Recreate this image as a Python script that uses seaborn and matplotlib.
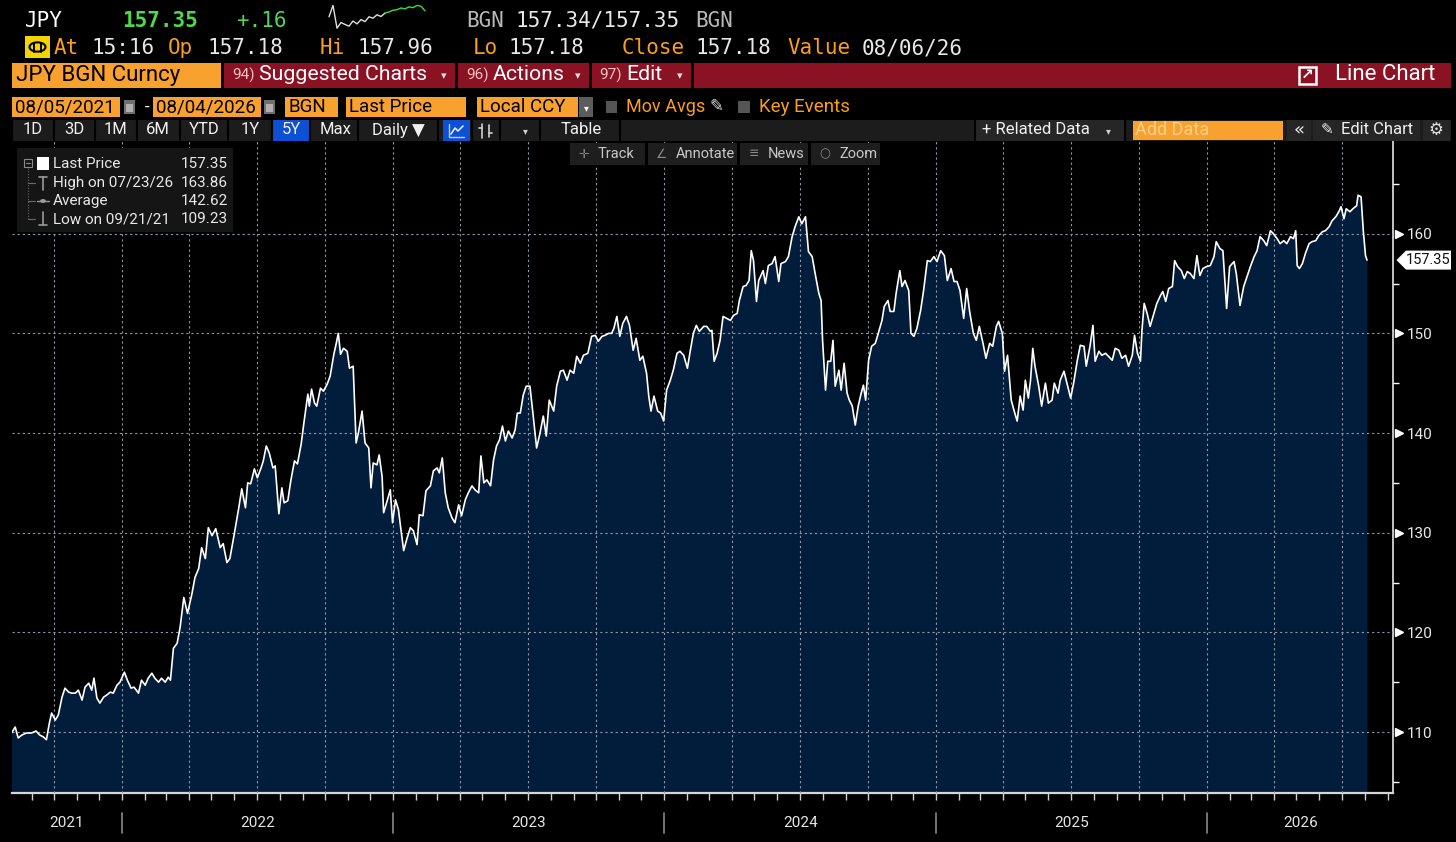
import matplotlib
matplotlib.use("Agg")
import matplotlib.pyplot as plt
import matplotlib.dates as mdates
import matplotlib.transforms as mtransforms
from matplotlib.patches import Rectangle, Polygon, Circle
from matplotlib.lines import Line2D
from matplotlib.ticker import NullFormatter
import numpy as np
import pandas as pd
import seaborn as sns

W, H = 1456, 842

# ---------------- data ----------------
start_date = "2021-08-05"
end_date = "2026-08-04"

# days after start_date
day_offsets = [
    0, 5, 9, 14, 20, 27, 33, 38, 43, 47,
    51, 54, 59, 63, 68, 72, 77, 81, 86, 90,
    95, 99, 104, 108, 111, 115, 119, 124, 128, 133,
    137, 142, 146, 152, 156, 161, 165, 171, 175, 180,
    184, 189, 193, 198, 202, 207, 211, 214, 218, 223,
    227, 232, 237, 243, 247, 252, 256, 261, 265, 270,
    275, 281, 285, 290, 294, 300, 306, 310, 315, 318,
    322, 327, 331, 336, 339, 343, 347, 352, 355, 360,
    364, 367, 372, 376, 381, 385, 390, 394, 399, 401,
    404, 408, 411, 416, 420, 425, 429, 434, 437, 440,
    443, 447, 452, 455,
    460, 464, 467, 472, 476, 481, 484, 487, 492, 495,
    499, 501, 505, 510, 513, 517, 521, 524, 528, 532,
    537, 541, 546, 549, 554, 558, 564, 568, 573, 576,
    580, 584, 588, 593, 597, 602, 606, 611, 615, 620,
    624, 629, 632, 636, 640, 645, 649, 653, 657, 661,
    665, 669, 674, 678, 681, 685, 689, 693, 698, 702,
    707, 711, 716, 720, 724, 730, 734, 739, 743, 748,
    752, 757, 761, 766, 770, 776, 781, 786, 790, 795,
    799, 804, 808, 811, 815, 819, 823, 828, 832, 837,
    841, 846, 850, 855, 858, 861, 865, 870, 874, 878,
    882, 887, 891, 896, 900, 905, 910, 914,
    918, 922, 926, 932, 936, 941, 943, 946, 950, 954,
    958, 963, 968, 972, 977, 980, 985, 989, 993, 996,
    999, 1003, 1006, 1012, 1015, 1019, 1024, 1028, 1033, 1036,
    1042, 1046, 1051, 1055, 1060, 1064, 1069, 1073, 1078, 1082,
    1087, 1090, 1092, 1096, 1099, 1103, 1106, 1109, 1114, 1117,
    1121, 1125, 1128, 1132, 1136, 1140, 1144, 1147, 1150, 1154,
    1158, 1163, 1167, 1172, 1175, 1180, 1183, 1188, 1191, 1196,
    1199, 1203, 1208, 1211, 1215, 1219, 1224, 1228, 1233, 1237,
    1242, 1246, 1251, 1256, 1260, 1265, 1269, 1273, 1277, 1282,
    1286, 1290, 1295, 1299, 1303, 1308, 1312, 1317, 1321, 1326,
    1329, 1334, 1337, 1341, 1346, 1350, 1354, 1358, 1362, 1365,
    1369,
    1372, 1375, 1378, 1383, 1387, 1392, 1396, 1401, 1404, 1409,
    1412, 1417, 1421, 1426, 1430, 1435, 1439, 1444, 1447, 1452,
    1456, 1459, 1464, 1468, 1473, 1477, 1482, 1486, 1491, 1495,
    1500, 1504, 1509, 1512, 1516, 1520, 1522, 1525, 1529, 1533,
    1538, 1542, 1547, 1550, 1554, 1558, 1563, 1566, 1570, 1575,
    1579, 1583, 1587, 1592, 1596, 1600, 1604, 1609, 1614, 1619,
    1622, 1627, 1631, 1636, 1640, 1646, 1649, 1654, 1659, 1664,
    1668, 1673, 1677, 1681, 1686, 1690, 1695, 1699, 1704, 1708,
    1713, 1717, 1722, 1726, 1729, 1731, 1734, 1738, 1742, 1747,
    1751, 1756, 1760, 1765, 1769, 1774, 1778, 1783, 1787, 1790,
    1794, 1797, 1802, 1806, 1811, 1813, 1817, 1820, 1823, 1825,
]

prices = [
    109.9, 110.5, 109.4, 109.7, 109.9, 109.9, 110.1, 109.7, 109.5, 109.23,
    110.9, 111.9, 111.2, 111.7, 113.5, 114.4, 114.0, 113.9, 113.9, 114.2,
    113.2, 114.5, 114.9, 114.2, 115.4, 113.4, 112.9, 113.5, 113.7, 114.0,
    113.9, 114.7, 115.0, 116.0, 115.2, 114.4, 114.5, 113.9, 115.2, 114.7,
    115.4, 115.9, 115.4, 115.0, 115.4, 115.0, 115.5, 115.2, 118.4, 118.9,
    120.5, 123.5, 121.9, 123.9, 125.5, 126.4, 128.5, 127.4, 130.5, 129.7,
    130.4, 128.5, 128.9, 127.0, 127.4, 129.9, 132.5, 134.4, 132.5, 135.0,
    134.9, 136.4, 135.5, 136.5, 137.2, 138.7, 138.0, 136.5, 136.7, 131.9,
    134.5, 133.0, 133.2, 135.2, 137.2, 136.9, 138.9, 141.2, 143.9, 142.7,
    144.4, 143.0, 142.7, 144.5, 144.2, 144.9, 145.7, 147.9, 148.9, 150.0,
    147.9, 148.5, 148.2, 146.5,
    146.7, 139.0, 140.0, 142.2, 139.0, 138.5, 134.5, 137.0, 136.8, 137.8,
    135.6, 132.0, 133.0, 134.3, 131.0, 133.3, 132.3, 130.5, 128.2, 129.3,
    130.5, 130.2, 128.8, 131.8, 131.7, 134.2, 134.7, 136.2, 136.5, 136.0,
    137.5, 134.0, 132.5, 131.5, 131.0, 132.8, 131.7, 133.3, 134.0, 134.7,
    134.3, 134.0, 137.7, 135.0, 135.3, 134.7, 137.3, 138.7, 139.3, 140.7,
    139.2, 140.2, 139.5, 140.3, 142.0, 142.0, 143.8, 144.7, 144.7, 142.0,
    138.5, 139.8, 141.7, 139.7, 143.3, 142.2, 144.7, 146.2, 146.3, 145.3,
    146.3, 146.0, 147.7, 147.0, 147.8, 148.0, 149.7, 149.8, 149.2, 149.7,
    149.8, 150.0, 150.0, 150.5, 151.7, 149.7, 151.0, 151.7, 150.8, 148.3,
    149.5, 147.3, 147.7, 146.0, 143.7, 142.2, 143.7, 142.2, 142.0, 141.2,
    144.3, 145.3, 146.3, 148.0, 148.2, 147.8, 146.5, 148.3,
    150.0, 150.8, 150.2, 150.7, 150.7, 150.2, 150.3, 147.2, 148.0, 149.3,
    151.7, 151.5, 151.3, 151.8, 152.0, 153.3, 154.7, 154.8, 155.3, 158.3,
    157.3, 153.2, 155.3, 156.3, 155.0, 156.8, 157.0, 157.7, 155.2, 157.0,
    157.2, 157.7, 159.7, 160.7, 161.7, 161.0, 161.7, 158.2, 157.7, 156.0,
    154.0, 153.3, 149.3, 144.3, 147.2, 147.2, 149.3, 144.7, 146.3, 144.3,
    147.0, 144.0, 143.3, 142.7, 140.8, 142.7, 144.0, 144.8, 143.3, 147.3,
    148.7, 149.0, 150.0, 151.3, 152.7, 153.3, 152.2, 152.2, 154.0, 156.3,
    154.7, 155.3, 154.3, 150.0, 149.7, 150.5, 152.3, 154.3, 157.3, 157.2,
    157.7, 157.2, 158.3, 157.8, 155.3, 156.5, 155.2, 155.2, 154.3, 151.5,
    154.5, 152.2, 150.0, 149.3, 150.7, 149.0, 147.5, 149.0, 148.7, 150.7,
    151.2, 150.0, 146.2, 147.8, 143.3, 142.2, 141.2, 143.7, 142.3, 145.3,
    143.5,
    145.3, 148.5, 146.7, 144.7, 142.7, 145.0, 143.0, 143.3, 145.0, 144.0,
    145.3, 146.2, 145.0, 143.5, 145.0, 147.3, 148.8, 148.7, 146.7, 148.7,
    150.8, 147.2, 148.2, 147.8, 148.0, 147.7, 147.3, 148.5, 148.3, 147.5,
    147.8, 146.7, 147.8, 149.8, 148.0, 147.2, 150.3, 153.0, 152.0, 150.7,
    152.0, 153.0, 153.8, 154.2, 153.2, 154.5, 154.7, 157.3, 156.7, 156.3,
    155.5, 156.2, 156.0, 155.5, 157.8, 155.8, 156.5, 156.7, 156.8, 157.7,
    159.2, 158.5, 158.3, 152.5, 156.7, 157.2, 156.0, 152.8, 154.7, 155.8,
    156.7, 157.7, 158.3, 159.7, 159.3, 158.8, 160.3, 160.0, 159.5, 159.0,
    159.3, 159.0, 159.7, 159.5, 160.3, 156.8, 156.5, 157.0, 158.0, 159.0,
    159.2, 159.3, 159.8, 160.2, 160.3, 160.7, 161.3, 161.7, 162.2, 162.7,
    161.5, 162.5, 162.2, 162.5, 162.8, 163.86, 163.7, 160.3, 157.8, 157.35,
]

# intraday sparkline in the header (relative levels)
spark_white = [0.55, 0.95, 0.15, 0.35, 0.28, 0.22, 0.40, 0.30, 0.45, 0.38, 0.55, 0.50, 0.62, 0.56, 0.68]
spark_green = [0.68, 0.72, 0.78, 0.80, 0.86, 0.83, 0.90, 0.87, 0.95, 0.92, 0.76]

year_labels = ["2021", "2022", "2023", "2024", "2025", "2026"]
y_ticks = [110, 120, 130, 140, 150, 160]
legend_labels = ["Last Price", "High on 07/23/26", "Average", "Low on 09/21/21"]
legend_values = ["157.35", "163.86", "142.62", "109.23"]
period_buttons = ["1D", "3D", "1M", "6M", "YTD", "1Y", "5Y", "Max"]

# ---------------- style ----------------
NAVY = "#021d3b"
ORANGE_BOX = "#f9a12e"
ORANGE_TXT = "#fb9e1d"
RED_BAR = "#8a1222"
GREEN = "#4fd94f"
GRID = "#8e98a5"
UI = ["Roboto", "DejaVu Sans"]
MONO = ["DejaVu Sans Mono", "DejaVu Sans"]
SYM = ["DejaVu Sans"]

sns.set_theme(style="dark", rc={"axes.facecolor": "black", "figure.facecolor": "black",
                                "savefig.facecolor": "black"})
plt.rcParams["font.family"] = UI

fig = plt.figure(figsize=(W / 100, H / 100), dpi=100)


def fx(x):
    return x / W


def fy(y):
    return 1 - y / H


def box(x0, y0, x1, y1, color, ec="none", lw=0):
    fig.add_artist(Rectangle((fx(x0), fy(y1)), (x1 - x0) / W, (y1 - y0) / H,
                             transform=fig.transFigure, facecolor=color,
                             edgecolor=ec, lw=lw))


def txt(x, y, s, color="white", size=12, ha="left", family=None, weight="normal"):
    fig.text(fx(x), fy(y), s, color=color, fontsize=size, ha=ha, va="center",
             family=family or UI, weight=weight)


def seg(xs, ys, color, lw=1.0, ls="-"):
    fig.add_artist(Line2D([fx(v) for v in xs], [fy(v) for v in ys],
                          transform=fig.transFigure, color=color, lw=lw, ls=ls))


def vline(x, y0, y1, color, lw=1.0, ls="-"):
    seg([x, x], [y0, y1], color, lw, ls)


def hline(x0, x1, y, color, lw=1.0, ls="-"):
    seg([x0, x1], [y, y], color, lw, ls)


# ---------------- main chart ----------------
ax = fig.add_axes([fx(11.5), fy(793), (1393 - 11.5) / W, (793 - 141) / H])
ax.set_facecolor("black")

dates = pd.Timestamp(start_date) + pd.to_timedelta(day_offsets, unit="D")
df = pd.DataFrame({"date": dates, "price": prices})
y_lo, y_hi = 103.88, 169.3

ax.fill_between(df["date"], df["price"], y_lo, color=NAVY, lw=0, zorder=1)
sns.lineplot(data=df, x="date", y="price", color="white", lw=1.2, ax=ax, zorder=3)

ax.set_xlim(pd.Timestamp(start_date), pd.Timestamp("2026-09-08"))
ax.set_ylim(y_lo, y_hi)
ax.set_xlabel("")
ax.set_ylabel("")

ax.xaxis.set_major_locator(mdates.MonthLocator(bymonth=[1, 4, 7, 10]))
ax.xaxis.set_minor_locator(mdates.MonthLocator())
ax.xaxis.set_major_formatter(NullFormatter())
ax.tick_params(axis="x", which="both", direction="out", length=5, width=1,
               color="#d0d0d0", bottom=True, labelbottom=False)

ax.yaxis.tick_right()
ax.set_yticks(y_ticks)
ax.set_yticks(np.arange(105, 170, 10), minor=True)
ax.yaxis.set_minor_formatter(NullFormatter())
ax.tick_params(axis="y", which="major", length=0, pad=10, labelsize=11,
               labelcolor="#e8e8e8", right=True, left=False)
ax.tick_params(axis="y", which="minor", length=4, width=1, color="white",
               right=True, left=False)

ax.set_axisbelow(False)
ax.grid(True, which="major", axis="both", color=GRID, linestyle=(0, (2, 2.6)), lw=0.8)
ax.grid(False, which="minor")

for side in ["top", "left"]:
    ax.spines[side].set_visible(False)
ax.spines["bottom"].set_color("#d6d6d6")
ax.spines["bottom"].set_linewidth(1.6)
ax.spines["right"].set_color("#e6e6e6")
ax.spines["right"].set_linewidth(1.2)

trans_ay = mtransforms.blended_transform_factory(ax.transAxes, ax.transData)
trans_xa = mtransforms.blended_transform_factory(ax.transData, ax.transAxes)
ax_w = 1393 - 11.5

# triangle markers at the major y ticks
ax.plot([(1398.5 - 11.5) / ax_w] * len(y_ticks), y_ticks, marker=">", ls="none", ms=5.5,
        color="white", transform=trans_ay, clip_on=False)

# last price tag
last = prices[-1]
half = 9.5 / 9.96
tip, rl, rr = (1396.5 - 11.5) / ax_w, (1406 - 11.5) / ax_w, (1451 - 11.5) / ax_w
ax.add_patch(Polygon([(tip, last), (rl, last + half), (rr, last + half),
                      (rr, last - half), (rl, last - half)], closed=True,
                     transform=trans_ay, clip_on=False, facecolor="white",
                     edgecolor="none", zorder=5))
ax.text((rl + rr) / 2, last, f"{last:.2f}", transform=trans_ay, ha="center", va="center",
        fontsize=10.5, color="#111111", zorder=6)

# year labels and separators
x0_lim, x1_lim = pd.Timestamp(start_date), pd.Timestamp("2026-09-08")
for lab in year_labels:
    ys = max(pd.Timestamp(f"{lab}-01-01"), x0_lim)
    ye = min(pd.Timestamp(f"{int(lab) + 1}-01-01"), x1_lim)
    mid = ys + (ye - ys) / 2
    ax.text(mid, -0.046, lab, transform=trans_xa, ha="center", va="center",
            fontsize=11, color="#e6e6e6")
    if ys > x0_lim:
        ax.add_line(Line2D([ys, ys], [-0.031, -0.061], transform=trans_xa,
                           color="#8a8a8a", lw=1.2, clip_on=False))

# ---------------- legend box ----------------
box(17, 148, 233, 232, "#151515")
rows_y = [164, 183, 201, 219]
for lab, val, yy in zip(legend_labels, legend_values, rows_y):
    txt(53, yy, lab, color="#e8e8e8", size=11)
    txt(228, yy, val, color="#e8e8e8", size=11, ha="right")
box(24, 159, 32, 167, "#151515", ec="#8a8a8a", lw=0.8)
hline(26, 30, 163, "#8a8a8a", lw=0.8)
vline(28, 168, 219, "#6a6a6a", lw=0.8, ls=(0, (1, 1.5)))
for yy in rows_y[1:]:
    hline(28, 35, yy, "#6a6a6a", lw=0.8)
box(37, 157, 49, 170, "white")
vline(43, 177, 190, "#9a9a9a", lw=1.2)
hline(39, 47, 177, "#9a9a9a", lw=1.2)
hline(37, 49, 201, "#9a9a9a", lw=1.0)
fig.add_artist(Circle((fx(43), fy(201)), 2.2 / W, transform=fig.transFigure,
                      color="#9a9a9a"))
vline(43, 212, 225, "#9a9a9a", lw=1.2)
hline(39, 47, 225, "#9a9a9a", lw=1.2)

# ---------------- header row 1 ----------------
txt(25, 21, "JPY", size=15, family=MONO)
txt(122, 21, "157.35", color=GREEN, size=15, family=MONO, weight="bold")
txt(236, 21, "+.16", color=GREEN, size=15, family=MONO)
txt(466, 21, "BGN", color="#b8b8b8", size=15, family=MONO)
txt(515, 21, "157.34/157.35", color="#e8e8e8", size=15, family=MONO)
txt(695, 21, "BGN", color="#b8b8b8", size=15, family=MONO)

sp = fig.add_axes([fx(327), fy(31), 100 / W, 27 / H])
sp.set_axis_off()
nw = len(spark_white)
sp.plot(np.arange(nw), spark_white, color="#e0e0e0", lw=1.0)
sp.plot(np.arange(nw - 1, nw - 1 + len(spark_green)), spark_green, color="#3ddc3d", lw=1.0)
sp.set_xlim(-0.5, nw + len(spark_green) - 1.5)
sp.set_ylim(0.05, 1.0)

# ---------------- header row 2 ----------------
box(25, 36, 50, 58, "#f3d400")
fig.add_artist(Circle((fx(37.5), fy(47)), 8 / W, transform=fig.transFigure,
                      facecolor="none", edgecolor="black", lw=1.5))
vline(34, 43, 52, "black", lw=1.4)
vline(41, 43, 52, "black", lw=1.4)
row2 = [(54, "At", ORANGE_TXT), (91, "15:16", "#e8e8e8"), (168, "Op", ORANGE_TXT),
        (207, "157.18", "#e8e8e8"), (320, "Hi", ORANGE_TXT), (357, "157.96", "#e8e8e8"),
        (473, "Lo", ORANGE_TXT), (509, "157.18", "#e8e8e8"), (622, "Close", ORANGE_TXT),
        (696, "157.18", "#e8e8e8"), (787, "Value", ORANGE_TXT), (862, "08/06/26", "#e8e8e8")]
for xx, s, c in row2:
    txt(xx, 48, s, color=c, size=15, family=MONO)

# ---------------- header row 3 (red bar) ----------------
box(12, 63, 221, 88, ORANGE_BOX)
txt(16, 76, "JPY BGN Curncy", color="black", size=16)
box(224, 63, 1451, 88, RED_BAR)
for xx in [456, 590, 692]:
    vline(xx, 63, 88, "black", lw=2)
for xx, num, lab, arrow in [(232, "94)", "Suggested Charts", 441), (466, "96)", "Actions", 575),
                            (599, "97)", "Edit", 677)]:
    txt(xx, 75, num, color="#f1c6c6", size=11)
    txt(xx + 27, 75, lab, color="white", size=15.3)
    txt(arrow, 76, "▾", color="#e0e0e0", size=8, family=SYM)
box(1299, 67, 1316, 84, RED_BAR, ec="white", lw=1.8)
txt(1307, 74, "↗", color="white", size=11, ha="center", family=SYM, weight="bold")
txt(1335, 75, "Line Chart", color="white", size=16)

# ---------------- header row 4 ----------------
for x0, x1, s in [(12, 120, "08/05/2021"), (153, 261, "08/04/2026"), (285, 338, "BGN"),
                  (346, 466, "Last Price"), (477, 578, "Local CCY")]:
    box(x0, 97, x1, 117, ORANGE_BOX)
    txt(x0 + 3, 107, s, color="black", size=13.5)
for x0 in [124, 264]:
    box(x0, 100, x0 + 11, 114, "#6f6f6f")
    box(x0 + 2, 104, x0 + 9, 112, "#b0b0b0")
txt(145, 107, "-", color="white", size=12)
box(579, 97, 593, 117, "#5c5c5c")
txt(586, 108, "▾", color="white", size=7, ha="center", family=SYM)
box(606, 101, 617, 113, "#555555")
txt(626, 107, "Mov Avgs", color=ORANGE_TXT, size=13)
txt(716, 106, "✎", color="#e0e0e0", size=12, ha="center", family=SYM)
box(738, 101, 750, 113, "#555555")
txt(759, 107, "Key Events", color=ORANGE_TXT, size=13.5)

# ---------------- header row 5 (button bar) ----------------
box(12, 120, 1451, 141, "#1c1c1c")
box(272, 120, 310, 141, "#0d50d4")
box(443, 120, 470, 141, "#0d50d4")
for xx in [12, 54, 95, 137, 180, 228, 272, 310, 358, 438, 472, 500, 540, 620, 975, 1125]:
    vline(xx, 120, 141, "black", lw=1.5)
centers = [33, 74, 116, 158, 204, 250, 291, 336]
for cx, s in zip(centers, period_buttons):
    txt(cx, 130, s, color="#f0f0f0", size=12, ha="center")
txt(398, 130, "Daily ▼", color="#f0f0f0", size=12, ha="center")
# line-chart icon (blue button) and bar icon
seg([449, 449, 464], [124, 137, 137], "#b8ccff", lw=1.0)
seg([451, 455, 458, 463], [134, 128, 131, 126], "#dfe8ff", lw=1.2)
vline(482, 124, 138, "#d0d0d0", lw=1.2)
hline(479, 482, 128, "#d0d0d0", lw=1.2)
vline(489, 125, 137, "#d0d0d0", lw=1.2)
hline(489, 492, 133, "#d0d0d0", lw=1.2)
txt(525, 131, "▾", color="#d0d0d0", size=7, ha="center", family=SYM)
txt(581, 130, "Table", color="#f0f0f0", size=12, ha="center")
box(976, 120, 1125, 141, "#262626")
txt(982, 130, "+ Related Data", color="#f0f0f0", size=12)
txt(1106, 131, "▾", color="#d0d0d0", size=7, family=SYM)
box(1133, 121, 1283, 140, ORANGE_BOX)
txt(1135, 130, "Add Data", color="#fdd08a", size=13)
box(1287, 120, 1311, 141, "#262626")
txt(1299, 130, "«", color="#f0f0f0", size=13, ha="center", family=SYM)
box(1313, 120, 1420, 141, "#262626")
txt(1327, 130, "✎", color="#f0f0f0", size=11, ha="center", family=SYM)
txt(1341, 130, "Edit Chart", color="#f0f0f0", size=12)
box(1423, 120, 1450, 141, "#262626")
txt(1436, 130, "⚙", color="#e0e0e0", size=12, ha="center", family=SYM)

# ---------------- header row 6 (chart tools) ----------------
for x0, x1, icon, lab in [(570, 645, "✛", "Track"), (648, 737, "∠", "Annotate"),
                          (740, 808, "≡", "News"), (811, 880, "○", "Zoom")]:
    box(x0, 143, x1, 165, "#1e1e1e")
    txt(x0 + 14, 154, icon, color="#8a8a8a", size=9, ha="center", family=SYM)
    txt(x0 + 28, 154, lab, color="#c8c8c8", size=10.5)

fig.savefig("out.png", dpi=100, facecolor="black")
